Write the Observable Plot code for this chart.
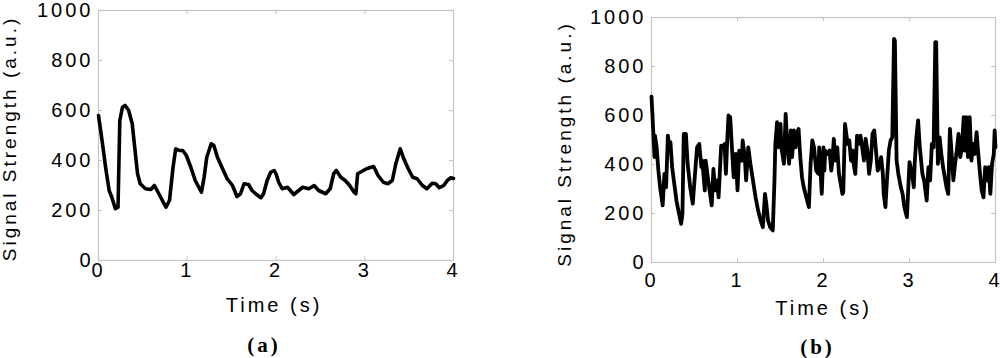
<!DOCTYPE html>
<html>
<head>
<meta charset="utf-8">
<script src="https://cdn.jsdelivr.net/npm/d3@7"></script>
<script src="https://cdn.jsdelivr.net/npm/@observablehq/plot@0.6"></script>
<style>
  html, body { margin: 0; padding: 0; background: #fff; }
  #wrap { display: flex; width: 1000px; height: 358px; }
  #wrap > div { width: 500px; height: 358px; }
</style>
</head>
<body>
<div id="wrap"><div id="a"></div><div id="b"></div></div>
<script>
// ---------- data ----------
const xTicks = [0, 1, 2, 3, 4];
const yTicks = [0, 200, 400, 600, 800, 1000];
const xLabel = "Time (s)";
const yLabel = "Signal Strength (a.u.)";
const panelLabels = ["(a)", "(b)"];

const timeA = [0.00,0.04,0.08,0.12,0.15,0.19,0.22,0.24,0.27,0.30,0.34,0.38,0.42,0.44,0.47,0.53,0.59,0.63,0.68,0.72,0.76,0.80,0.84,0.87,0.91,0.95,0.99,1.04,1.09,1.16,1.19,1.22,1.27,1.30,1.34,1.39,1.45,1.51,1.56,1.60,1.64,1.69,1.73,1.77,1.83,1.86,1.90,1.94,1.98,2.00,2.03,2.07,2.13,2.20,2.30,2.37,2.43,2.48,2.56,2.61,2.65,2.68,2.73,2.78,2.83,2.88,2.90,2.92,2.95,3.02,3.10,3.15,3.21,3.26,3.31,3.35,3.40,3.44,3.49,3.54,3.59,3.65,3.70,3.76,3.80,3.84,3.89,3.93,3.97,4.00];
const signalA = [580,480,373,280,253,207,213,560,613,620,600,547,413,347,307,287,284,300,267,240,213,240,373,447,440,440,420,373,320,273,333,413,467,460,413,373,327,300,256,267,307,304,280,267,251,267,320,353,360,347,313,287,293,264,293,287,300,280,267,287,347,360,333,320,300,273,267,347,353,367,376,340,313,307,320,387,447,407,367,333,327,300,287,309,307,291,300,320,331,328];

const timeB = [0.00,0.02,0.035,0.04,0.06,0.08,0.10,0.13,0.15,0.17,0.19,0.21,0.22,0.24,0.27,0.29,0.32,0.345,0.36,0.375,0.40,0.42,0.45,0.48,0.50,0.53,0.555,0.58,0.59,0.62,0.63,0.655,0.67,0.70,0.72,0.74,0.76,0.78,0.81,0.825,0.85,0.865,0.88,0.895,0.915,0.935,0.955,0.98,1.00,1.02,1.05,1.06,1.085,1.10,1.125,1.15,1.18,1.21,1.24,1.27,1.295,1.32,1.335,1.355,1.38,1.41,1.43,1.44,1.46,1.48,1.50,1.51,1.54,1.56,1.58,1.60,1.62,1.635,1.655,1.675,1.69,1.71,1.73,1.75,1.77,1.80,1.83,1.85,1.87,1.89,1.915,1.94,1.95,1.98,2.00,2.01,2.02,2.05,2.07,2.09,2.10,2.12,2.14,2.16,2.18,2.20,2.22,2.23,2.25,2.28,2.30,2.32,2.34,2.35,2.37,2.39,2.41,2.43,2.45,2.47,2.49,2.51,2.53,2.55,2.57,2.59,2.61,2.63,2.65,2.67,2.69,2.70,2.72,2.74,2.76,2.78,2.80,2.82,2.83,2.85,2.87,2.90,2.92,2.94,2.97,3.00,3.03,3.05,3.06,3.08,3.10,3.12,3.135,3.15,3.17,3.20,3.22,3.24,3.26,3.28,3.30,3.31,3.33,3.35,3.37,3.39,3.41,3.43,3.45,3.47,3.49,3.51,3.53,3.55,3.57,3.59,3.61,3.63,3.64,3.66,3.68,3.70,3.72,3.74,3.76,3.78,3.80,3.82,3.84,3.86,3.88,3.90,3.92,3.94,3.96,3.98,3.99,4.00];
const signalB = [677,539,430,518,470,375,307,233,362,307,518,457,491,389,307,253,199,158,199,525,525,403,307,240,335,470,484,389,416,294,416,348,307,233,382,294,335,266,477,470,484,362,491,600,593,470,348,443,294,457,416,498,430,335,470,403,335,266,212,171,144,280,240,171,144,131,335,484,573,470,566,470,403,607,470,403,539,430,539,470,525,545,430,348,307,266,226,403,498,470,375,362,470,280,470,375,457,443,457,375,403,505,416,470,362,321,280,287,566,484,498,416,457,403,362,518,484,518,470,416,505,457,362,416,525,539,457,375,389,430,362,280,226,348,457,498,511,913,906,416,362,307,280,226,185,410,362,307,403,511,580,470,416,362,335,253,389,335,484,470,899,899,403,511,443,389,348,307,280,545,443,335,403,457,525,430,470,593,457,593,430,593,416,484,443,532,443,362,294,266,389,335,389,280,403,443,539,470];

// ---------- chart builder ----------
const gray = "#c4c4c4";
function panel(times, values, cfg) {
  const data = times.map((t, i) => ({t, v: values[i]}));
  const W = 500, H = 358;
  const plotH = H - cfg.mt - cfg.mb;
  const plotW = W - cfg.ml - cfg.mr;
  const inner = xTicks.slice(1, -1);
  const innerY = yTicks.slice(1, -1);
  return Plot.plot({
    width: W, height: H,
    marginLeft: cfg.ml, marginRight: cfg.mr, marginTop: cfg.mt, marginBottom: cfg.mb,
    x: {domain: [0, 4]},
    y: {domain: [0, 1000]},
    style: {fontFamily: "'Liberation Sans', Arial, sans-serif", fontSize: "20px", color: "black", background: "white", letterSpacing: "3px", overflow: "visible"},
    marks: [
      Plot.frame({stroke: gray, strokeWidth: 1.2}),
      Plot.tickX(inner, {x: d => d, stroke: gray, insetTop: plotH - 4}),
      Plot.tickX(inner, {x: d => d, stroke: gray, insetBottom: plotH - 4}),
      Plot.tickY(innerY, {y: d => d, stroke: gray, insetRight: plotW - 4}),
      Plot.tickY(innerY, {y: d => d, stroke: gray, insetLeft: plotW - 4}),
      Plot.axisX(xTicks, {tickSize: 0, tickPadding: cfg.xpad, label: null, fontSize: 20, tickFormat: d => String(d)}),
      Plot.axisY(yTicks, {tickSize: 0, tickPadding: cfg.ypad, label: null, fontSize: 20, tickFormat: d => String(d)}),
      Plot.line(data, {x: "t", y: "v", stroke: "black", strokeWidth: cfg.sw, strokeLinejoin: "round", strokeLinecap: "round"}),
      Plot.text([xLabel], {text: d => d, frameAnchor: "bottom", textAnchor: "middle", dx: cfg.xlDx, dy: cfg.xlDy, lineAnchor: "middle", fontSize: 20}),
      Plot.text([yLabel], {text: d => d, frameAnchor: "left", textAnchor: "middle", rotate: -90, dx: cfg.ylDx, dy: cfg.ylDy, lineAnchor: "middle", fontSize: 19}),
      Plot.text([cfg.caption], {text: d => d, frameAnchor: "bottom", textAnchor: "middle", dx: cfg.capDx, dy: cfg.capDy, lineAnchor: "middle", fontSize: 21, fontWeight: "bold", fontFamily: "'Liberation Serif', 'Times New Roman', serif"})
    ]
  });
}

document.getElementById("a").append(panel(timeA, signalA, {
  ml: 98, mr: 47, mt: 10, mb: 98, xpad: 2, ypad: 5, sw: 3.6,
  xlDx: -2, xlDy: 45, ylDx: -89, ylDy: 3, caption: panelLabels[0], capDx: -12, capDy: 85
}));
document.getElementById("b").append(panel(timeB, signalB, {
  ml: 151, mr: 5, mt: 17, mb: 96, xpad: 10, ypad: 5, sw: 3.8,
  xlDx: 0, xlDy: 46, ylDx: -87, ylDy: 4, caption: panelLabels[1], capDx: -6, capDy: 85
}));
</script>
</body>
</html>
